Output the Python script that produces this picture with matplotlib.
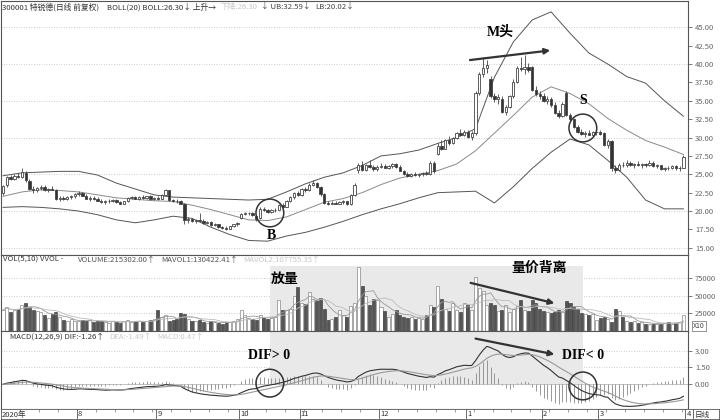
import numpy as np
import pandas as pd
import matplotlib
matplotlib.use("Agg")
import matplotlib.pyplot as plt

plt.rcParams['font.family'] = ['Noto Sans CJK SC', 'DejaVu Sans']

# trading days per month shown (Jul 2020 .. Mar 2021)
month_names = ['8', '9', '10', '11', '12', '1', '2', '3', '4']
month_bars = [20, 21, 22, 16, 21, 23, 20, 15, 23]

opens = [22.4, 23.5, 24.6, 24.4, 24.8, 24.6, 25.2, 24.1, 23.0, 22.8,
         23.1, 23.3, 22.9, 23.0, 22.9, 21.7, 21.8, 21.7, 21.9, 22.0,
         22.3, 22.5, 22.1, 21.7, 21.8, 21.6, 21.4, 21.2, 21.3, 21.4,
         21.5, 21.2, 21.0, 21.3, 21.8, 21.9, 21.7, 21.9, 21.8, 22.0,
         21.6, 21.8, 21.7, 22.2, 22.8, 21.5, 21.4, 21.3, 21.0, 18.8,
         18.9, 18.6, 18.8, 18.7, 18.4, 18.5, 18.1, 18.2, 17.8, 17.7,
         17.6, 17.9, 18.2, 19.0, 19.6, 19.7, 19.8, 19.3, 19.0, 20.3,
         20.1, 19.9, 20.1, 20.2, 20.8, 20.6, 21.4, 21.9, 22.5, 22.2,
         23.0, 22.8, 23.6, 23.8, 23.3, 22.3, 21.1, 21.0, 21.1, 21.0,
         21.2, 21.3, 20.9, 22.2, 25.6, 26.2, 25.6, 26.2, 26.0, 25.7,
         26.0, 26.1, 25.9, 26.1, 26.4, 26.0, 25.5, 25.0, 24.8, 25.1,
         24.9, 25.0, 25.2, 25.0, 26.6, 27.8, 28.9, 28.5, 29.6, 29.2,
         30.0, 30.6, 30.4, 30.8, 30.1, 30.6, 36.0, 38.6, 39.5, 38.0,
         35.6, 35.2, 35.3, 33.5, 34.2, 35.6, 37.6, 39.5, 39.3, 39.6,
         39.6, 36.5, 35.9, 35.6, 35.0, 35.3, 34.4, 33.4, 32.9, 36.1,
         33.1, 32.5, 31.5, 30.8, 30.5, 30.6, 30.4, 30.7, 30.8, 30.6,
         29.0, 29.5, 25.8, 25.6, 26.3, 26.2, 26.6, 26.3, 26.4, 26.2,
         26.4, 26.2, 26.6, 26.1, 26.2, 25.7, 25.9, 25.8, 26.1, 25.8,
         25.9]
highs = [23.6, 24.8, 24.9, 25.0, 25.2, 25.8, 25.5, 24.3, 23.4, 23.3,
         23.6, 23.5, 23.2, 23.4, 23.0, 22.0, 22.1, 22.0, 22.2, 22.5,
         22.7, 22.6, 22.3, 22.0, 22.0, 21.9, 21.6, 21.5, 21.6, 21.7,
         21.6, 21.4, 21.4, 21.9, 22.1, 22.1, 22.0, 22.2, 22.1, 22.2,
         21.9, 22.0, 22.3, 23.0, 22.9, 21.7, 21.6, 21.5, 21.1, 19.2,
         19.1, 18.9, 19.7, 18.9, 18.7, 18.6, 18.4, 18.3, 18.0, 17.9,
         18.0, 18.3, 18.5, 19.8, 19.9, 19.9, 19.9, 19.4, 20.5, 20.5,
         20.3, 20.3, 20.4, 21.0, 21.1, 21.5, 22.0, 22.6, 22.7, 23.2,
         23.3, 23.8, 24.2, 24.0, 23.4, 22.4, 21.4, 21.3, 21.3, 21.4,
         21.5, 21.4, 22.3, 23.8, 26.6, 26.8, 26.4, 27.0, 26.3, 26.2,
         26.5, 26.4, 26.3, 26.6, 26.5, 26.2, 25.6, 25.3, 25.2, 25.3,
         25.2, 25.3, 25.4, 26.8, 26.8, 29.2, 29.6, 29.8, 30.2, 30.1,
         30.8, 31.2, 31.0, 31.0, 30.9, 36.4, 38.9, 40.9, 40.6, 38.4,
         36.1, 35.9, 35.6, 34.4, 35.8, 37.9, 39.8, 41.0, 41.2, 40.2,
         39.8, 37.0, 36.4, 36.0, 35.6, 35.5, 34.8, 33.8, 34.8, 36.3,
         33.4, 32.6, 31.7, 31.1, 30.9, 31.0, 30.9, 31.1, 31.0, 30.8,
         29.8, 29.7, 26.2, 26.5, 26.7, 26.9, 26.8, 26.5, 26.8, 26.6,
         26.6, 27.0, 26.8, 26.4, 26.3, 26.0, 26.1, 26.3, 26.2, 26.1,
         27.6]
lows = [22.2, 23.3, 24.2, 24.2, 24.5, 24.5, 24.0, 22.8, 22.5, 22.6,
        22.9, 22.7, 22.6, 22.8, 21.5, 21.4, 21.5, 21.5, 21.7, 21.8,
        22.1, 22.0, 21.6, 21.4, 21.5, 21.3, 21.1, 21.0, 21.1, 21.2,
        21.1, 20.9, 20.9, 21.2, 21.6, 21.6, 21.5, 21.7, 21.6, 21.5,
        21.5, 21.5, 21.6, 22.1, 21.4, 21.2, 21.1, 20.9, 18.2, 18.4,
        18.5, 18.4, 18.6, 18.3, 18.2, 18.0, 17.9, 17.7, 17.5, 17.4,
        17.5, 17.8, 18.0, 18.9, 19.4, 19.5, 19.3, 18.6, 18.9, 20.0,
        19.8, 19.8, 19.9, 20.1, 20.4, 20.5, 21.2, 21.7, 22.0, 22.1,
        22.6, 22.7, 23.4, 23.1, 22.1, 21.0, 20.8, 20.9, 20.9, 20.9,
        21.0, 20.8, 20.8, 22.1, 25.2, 25.4, 25.5, 25.9, 25.5, 25.5,
        25.8, 25.8, 25.7, 25.9, 25.9, 25.4, 24.9, 24.6, 24.7, 24.8,
        24.7, 24.8, 24.9, 24.9, 25.2, 27.6, 28.3, 28.4, 29.0, 29.1,
        29.8, 30.2, 30.2, 29.9, 29.7, 30.4, 35.8, 38.2, 38.8, 35.4,
        34.8, 34.6, 33.3, 33.1, 34.0, 35.4, 37.4, 39.0, 38.6, 38.9,
        36.3, 35.6, 35.2, 34.8, 34.5, 34.2, 33.2, 32.6, 32.8, 32.9,
        32.2, 31.3, 30.6, 30.3, 30.1, 30.3, 30.2, 30.4, 30.3, 28.8,
        28.6, 25.5, 25.2, 25.5, 26.0, 26.0, 26.1, 25.9, 26.1, 25.9,
        26.0, 26.1, 26.0, 25.8, 25.6, 25.5, 25.6, 25.7, 25.6, 25.5,
        25.8]
closes = [23.4, 24.6, 24.4, 24.8, 24.6, 25.3, 24.2, 23.0, 22.8, 23.1,
          23.3, 22.9, 23.0, 22.9, 21.7, 21.8, 21.7, 21.9, 22.0, 22.3,
          22.5, 22.1, 21.7, 21.8, 21.6, 21.4, 21.2, 21.3, 21.4, 21.5,
          21.2, 21.0, 21.3, 21.8, 21.9, 21.7, 21.9, 21.8, 22.0, 21.6,
          21.8, 21.7, 22.2, 22.8, 21.5, 21.4, 21.3, 21.0, 18.8, 18.9,
          18.6, 18.8, 18.7, 18.4, 18.5, 18.1, 18.2, 17.8, 17.7, 17.6,
          17.9, 18.2, 18.4, 19.6, 19.7, 19.8, 19.4, 18.9, 20.3, 20.1,
          19.9, 20.1, 20.2, 20.8, 20.6, 21.4, 21.9, 22.5, 22.2, 23.0,
          22.8, 23.6, 23.8, 23.3, 22.3, 21.1, 21.0, 21.1, 21.0, 21.2,
          21.3, 20.9, 22.2, 23.5, 26.2, 25.6, 26.2, 26.0, 25.7, 26.0,
          26.1, 25.9, 26.1, 26.4, 26.0, 25.5, 25.0, 24.8, 25.1, 24.9,
          25.0, 25.2, 25.0, 26.6, 25.4, 28.9, 28.5, 29.6, 29.2, 30.0,
          30.6, 30.4, 30.8, 30.1, 30.6, 36.1, 38.6, 39.5, 39.9, 35.6,
          35.2, 35.5, 33.5, 34.2, 35.6, 37.6, 39.5, 39.3, 39.6, 39.2,
          36.5, 35.9, 35.6, 35.0, 35.3, 34.4, 33.4, 32.9, 34.5, 33.1,
          32.5, 31.5, 30.8, 30.5, 30.6, 30.4, 30.7, 30.8, 30.5, 29.0,
          29.5, 25.8, 25.6, 26.3, 26.2, 26.6, 26.3, 26.4, 26.2, 26.4,
          26.2, 26.6, 26.1, 26.2, 25.7, 25.9, 25.8, 26.1, 25.8, 25.9,
          27.3]
volumes = [30, 34, 27, 29, 31, 36, 40, 33, 30, 28,
           26, 22, 18, 24, 26, 19, 15, 14, 16, 13,
           14, 15, 13, 15, 12, 14, 13, 12, 11, 14,
           12, 11, 13, 15, 12, 14, 13, 12, 14, 15,
           16, 30, 19, 22, 14, 15, 16, 25, 24, 17,
           14, 13, 15, 12, 11, 13, 12, 11, 10, 12,
           12, 14, 16, 30, 22, 18, 17, 15, 22, 19,
           17, 18, 20, 43, 30, 29, 31, 50, 62, 40,
           38, 55, 45, 44, 46, 31, 15, 16, 20, 30,
           22, 20, 35, 40, 91, 63, 50, 36, 45, 43,
           34, 28, 20, 24, 30, 22, 20, 18, 20, 17,
           18, 16, 22, 36, 34, 63, 45, 31, 28, 39,
           30, 26, 40, 36, 30, 77, 61, 56, 36, 40,
           36, 28, 30, 36, 26, 31, 35, 43, 30, 28,
           43, 40, 31, 28, 26, 25, 26, 30, 26, 42,
           40, 33, 31, 25, 23, 22, 24, 15, 18, 19,
           17, 12, 31, 28, 19, 14, 12, 13, 11, 12,
           10, 9, 10, 9, 10, 11, 12, 10, 11, 12,
           22]

# Bollinger band lines every 5 bars
band_bar = list(range(0, 181, 5))
band_upper = [24.8, 25.2, 25.3, 25.4, 25.4, 24.9, 23.8, 23.0, 22.2, 21.9,
              21.8, 21.7, 21.6, 21.5, 21.6, 22.6, 23.7, 24.6, 25.2, 26.2,
              27.5, 27.8, 28.3, 29.2, 30.0, 31.2, 38.2, 43.0, 46.0, 47.1,
              44.2, 41.5, 40.0, 38.3, 37.4, 35.0, 32.9]
band_mid = [22.0, 22.6, 22.9, 22.8, 22.6, 22.2, 21.8, 21.6, 21.4, 21.3,
            20.8, 20.2, 19.5, 18.8, 18.7, 19.2, 20.2, 21.2, 21.7, 22.5,
            23.6, 24.5, 25.0, 25.5, 26.4, 28.2, 30.6, 33.0, 35.5, 36.9,
            36.0, 34.6, 32.6, 31.0, 29.6, 28.7, 27.7]
band_lower = [20.5, 20.6, 20.5, 20.3, 20.0, 19.5, 18.8, 18.4, 18.8, 19.3,
              19.0, 17.8, 16.8, 16.0, 15.9, 16.6, 17.1, 17.8, 18.6, 19.5,
              20.3, 21.0, 21.8, 22.5, 22.6, 22.7, 21.1, 23.3, 25.8, 28.0,
              29.8, 29.0, 26.9, 24.6, 21.5, 20.3, 20.3]

o = np.array(opens); h = np.array(highs); l = np.array(lows); c = np.array(closes)
v = np.array(volumes) * 1000.0
idx = np.arange(len(c))
up = c >= o

s = pd.Series(c)
dif = s.ewm(span=12, adjust=False).mean() - s.ewm(span=26, adjust=False).mean()
dea = dif.ewm(span=9, adjust=False).mean()
hist = 2 * (dif - dea)
vs = pd.Series(v)
mav5 = vs.rolling(5, min_periods=1).mean()
mav10 = vs.rolling(10, min_periods=1).mean()

W, H = 720, 420
PX0, PXB = 3.0, 3.78  # first bar pixel, pixels per bar
DARK, FAINT = '#333333', '#c8c8c8'


def box(x0, y0, x1, y1):
    return [x0 / W, 1 - y1 / H, (x1 - x0) / W, (y1 - y0) / H]


def xl(p0, p1):
    return ((p0 - PX0) / PXB, (p1 - PX0) / PXB)


fig = plt.figure(figsize=(7.2, 4.2), dpi=100)
ax = fig.add_axes(box(1, 1, 688, 255))
axv = fig.add_axes(box(1, 255, 688, 331))
axm = fig.add_axes(box(1, 331, 688, 409))
axd = fig.add_axes(box(1, 409, 719, 419))


def header(a, x, y, parts, gap=4):
    """Write a row of indicator labels in panel `a`, each piece right after the last."""
    t = a.text(x / W, 1 - y / H, parts[0][0], color=parts[0][1], fontsize=5.6,
               va='center', ha='left', transform=fig.transFigure)
    for txt, col in parts[1:]:
        t = a.annotate(txt, xy=(1, 0.5), xycoords=t, xytext=(gap, 0),
                       textcoords='offset points', color=col, fontsize=5.6,
                       va='center', ha='left', annotation_clip=False)


edge = '#444444'
for a in (ax, axv, axm):
    a.set_xlim(*xl(1, 688))
    a.set_xticks([])
    a.yaxis.tick_right()
    a.tick_params(axis='y', direction='out', length=3, width=0.6, colors='#666666',
                  labelsize=5.5, pad=2)
    for sp in a.spines.values():
        sp.set_color('#555555'); sp.set_linewidth(0.8)

# --- price panel
ax.set_ylim(14.02, 48.58)
pt = np.arange(15, 45.1, 2.5)
ax.set_yticks(pt, [f'{t:.2f}' for t in pt])
for g in np.arange(15, 46, 5):
    ax.axhline(g, color='#bbbbbb', lw=0.6, ls=(0, (1, 2)), zorder=0)
ax.plot(band_bar, band_upper, color='#555555', lw=0.7, zorder=1)
ax.plot(band_bar, band_mid, color='#8a8a8a', lw=0.7, zorder=1)
ax.plot(band_bar, band_lower, color='#555555', lw=0.7, zorder=1)
ax.vlines(idx, l, h, color=edge, lw=0.6, zorder=2)
ax.bar(idx, np.maximum(np.abs(c - o), 0.06), bottom=np.minimum(o, c), width=0.62,
       color=np.where(up, 'white', '#333333'), edgecolor=edge, linewidth=0.6, zorder=3)

header(ax, 2, 7, [('300001 特锐德(日线 前复权)', DARK)])
header(ax, 107, 7, [('BOLL(20) BOLL:26.30↓ 上升→', DARK), ('下降:26.30', FAINT),
                    ('↓ UB:32.59↓', '#444444'), ('LB:20.02↓', '#444444')], gap=3)

serif = ['Liberation Serif', 'Noto Sans CJK SC']
ax.text(131.5, 44.4, 'M头', family=serif, fontsize=10, fontweight='bold', ha='center', va='center')
ax.annotate('', xy=(145.5, 41.9), xytext=(122.8, 40.5),
            arrowprops=dict(arrowstyle='-|>', color='#333333', lw=1.6, mutation_scale=8))
ax.text(153.4, 35.0, 'S', family=serif, fontsize=10, fontweight='bold', ha='center', va='center')
ax.text(71.0, 16.7, 'B', family=serif, fontsize=10, fontweight='bold', ha='center', va='center')
ax.scatter([70.6, 153.4], [19.74, 31.3], s=400, facecolors='none', edgecolors='#333333',
           linewidths=1.1, zorder=5)

# --- volume panel
axv.set_ylim(-700, 107900)
axv.set_yticks([25000, 50000, 75000], ['25000', '50000', '75000'])
for g in (25000, 50000, 75000):
    axv.axhline(g, color='#bbbbbb', lw=0.6, ls=(0, (1, 2)), zorder=0)
axv.axvspan(70.6, 153.4, ymin=0, ymax=0.86, color='#e9e9e9', lw=0, zorder=0)
axv.bar(idx, v, width=0.8, color=np.where(up, 'white', '#555555'),
        edgecolor=np.where(up, '#888888', '#444444'), linewidth=0.5, zorder=2)
axv.plot(idx, mav5, color='#999999', lw=0.6, zorder=3)
axv.plot(idx, mav10, color='#bbbbbb', lw=0.6, zorder=3)
header(axv, 3, 260, [('VOL(5,10) VVOL -', DARK)])
header(axv, 78, 260, [('VOLUME:215302.00↑', '#555555'), ('MAVOL1:130422.41↑', '#555555'),
                      ('MAVOL2:107755.35↑', FAINT)])
axv.text(693 / W, 1 - 326 / H, 'X10', fontsize=5, color='#444444', va='center', ha='left',
         transform=fig.transFigure,
         bbox=dict(boxstyle='square,pad=0.15', fc='white', ec='#666666', lw=0.5))
axv.text(74.6, 73600, '放量', fontsize=10, fontweight='bold', ha='center', va='center')
axv.text(141.8, 89000, '量价背离', fontsize=10, fontweight='bold', ha='center', va='center')
axv.annotate('', xy=(146.6, 38000), xytext=(123.0, 69000),
             arrowprops=dict(arrowstyle='-|>', color='#333333', lw=1.6, mutation_scale=8))

# --- MACD panel
axm.set_ylim(-2.21, 4.76)
axm.set_yticks([0, 1.5, 3.0], ['0.00', '1.50', '3.00'])
for g in (1.5, 3.0):
    axm.axhline(g, color='#bbbbbb', lw=0.6, ls=(0, (1, 2)), zorder=0)
axm.axhline(0, color='#aaaaaa', lw=0.5, zorder=1)
axm.axvspan(70.6, 153.4, ymin=2.21 / 6.97, ymax=1, color='#e9e9e9', lw=0, zorder=0)
axm.vlines(idx, 0, hist, color='#888888', lw=0.6, zorder=2)
axm.plot(idx, dif, color='#333333', lw=0.8, zorder=3)
axm.plot(idx, dea, color='#999999', lw=0.8, zorder=3)
header(axm, 10, 337, [('MACD(12,26,9) DIF:-1.26↑', DARK), ('DEA:-1.49↑', FAINT),
                      ('MACD:0.47↑', FAINT)])
axm.text(70.4, 2.53, 'DIF> 0', family=serif, fontsize=10, fontweight='bold', ha='center', va='center')
axm.text(153.4, 2.6, 'DIF< 0', family=serif, fontsize=10, fontweight='bold', ha='center', va='center')
axm.annotate('', xy=(146.6, 2.62), xytext=(124.3, 4.13),
             arrowprops=dict(arrowstyle='-|>', color='#333333', lw=1.6, mutation_scale=8))
axm.scatter([70.6, 153.4], [0.1, -0.15], s=400, facecolors='none', edgecolors='#333333',
            linewidths=1.1, zorder=5)

# --- date bar
axd.set_xlim(*xl(1, 719))
axd.set_ylim(0, 1)
axd.set_xticks([]); axd.set_yticks([])
for sp in axd.spines.values():
    sp.set_color('#555555'); sp.set_linewidth(0.6)
starts = np.cumsum(month_bars)
axd.text(-0.3, 0.45, '2020年', fontsize=5.5, va='center', ha='left', color='#333333')
for st, name in zip(starts, month_names):
    axd.axvline(st - 0.5, color='#555555', lw=0.6)
    axd.text(st - 0.2, 0.45, name, fontsize=5.5, va='center', ha='left', color='#333333')
axd.vlines(np.arange(0, 181, 5) - 0.5, 0.75, 1, color='#777777', lw=0.5)
axd.axvline(starts[-1] + 1.6, color='#555555', lw=0.6)
axd.text(starts[-1] + 2.0, 0.45, '日线', fontsize=5.5, va='center', ha='left', color='#333333')

fig.savefig('out.png', dpi=100)
